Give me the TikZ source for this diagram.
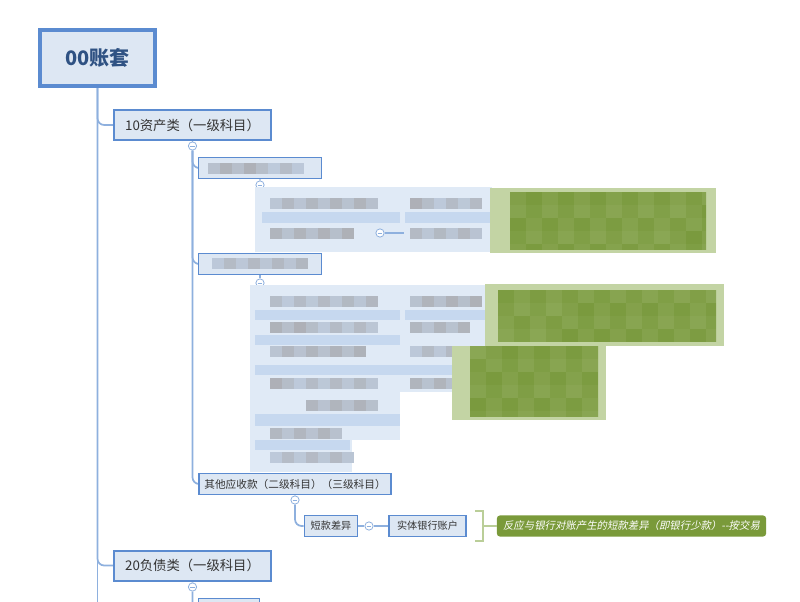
\documentclass[tikz,border=0pt]{standalone}
\usepackage{fontspec}
\usepackage{tikz}
\usetikzlibrary{positioning,calc,backgrounds}
\newfontfamily\cjk{Noto Sans CJK SC}
\newfontfamily\cjkit[FakeSlant=0.2]{Noto Sans CJK SC}
\definecolor{accent}{HTML}{5B8BD0}
\definecolor{soft}{HTML}{DDE7F3}
\definecolor{linkc}{HTML}{8EB0DE}
\definecolor{ink}{HTML}{333333}
\definecolor{rootink}{HTML}{2F5283}
\definecolor{notegreen}{HTML}{7A9A3A}
\definecolor{brk}{HTML}{BACE98}
\definecolor{mpale}{HTML}{E0EAF6}
\definecolor{mblue}{HTML}{C6D8EF}
\definecolor{mgrey}{HTML}{A9A9AC}
\definecolor{mgreen}{HTML}{7A9A3E}
\definecolor{mgreenl}{HTML}{C3D4A4}

\begin{document}
\begin{tikzpicture}[x=0.75pt,y=-0.75pt,
  every node/.style={font=\cjk,text=ink,inner sep=0pt,align=center},
  topic/.style={draw=accent,fill=soft,line width=1.5pt,minimum width=118pt,minimum height=22.5pt,font=\cjk\fontsize{10}{12}\selectfont},
  sub/.style={draw=accent,fill=soft,line width=1.2pt,minimum height=16pt,font=\cjk\fontsize{8}{10}\selectfont},
  leaf/.style={draw=accent,fill=soft,line width=1.2pt,minimum height=15.5pt,font=\cjk\fontsize{7.6}{9}\selectfont},
  note/.style={fill=notegreen,rounded corners=2.5pt,minimum height=16pt,text=white,font=\cjkit\fontsize{7.8}{9}\selectfont},
  fold/.style={circle,draw=linkc,fill=white,line width=0.6pt,minimum size=6.2pt,
    path picture={\draw[linkc,line width=0.6pt] ([xshift=1.4pt]path picture bounding box.west) -- ([xshift=-1.4pt]path picture bounding box.east);}},
  link/.style={linkc,line width=1.3pt,rounded corners=5pt},
  bracket/.style={brk,line width=2.2pt}]
  \useasboundingbox (0,0) rectangle (800,602);

  % root and first level
  \node[draw=accent,fill=soft,line width=3pt,minimum width=86pt,minimum height=42pt,text=rootink,
    font=\cjk\bfseries\fontsize{15}{18}\selectfont] (root) at (97.5,58) {00账套};
  \node[topic] (a10) at (192.5,125) {10资产类（一级科目）};
  \node[topic] (a20) at (192.5,565.5) {20负债类（一级科目）};
  \coordinate (trunkend) at (97.5,602);

  % second level
  \node[sub,minimum width=92pt] (b1) at (260,168) {};
  \node[sub,minimum width=92pt] (b2) at (260,264) {};
  \node[sub,minimum width=144pt] (b3) at (295,484) {其他应收款（二级科目）（三级科目）};
  \node[sub,minimum width=46pt] (d1) at (229,609) {};

  % hidden children
  \node[sub,minimum width=80pt] (e1) at (322,208) {};
  \node[sub,minimum width=80pt] (e2) at (322,233) {};
  \node[sub,minimum width=60pt] (e4) at (445,233) {};

  % third level
  \node[leaf,minimum width=40pt] (c1) at (331,526) {短款差异};
  \node[leaf,minimum width=58pt] (c2) at (427.5,526) {实体银行账户};
  \node[note,minimum width=202pt] (note) at (631.5,526) {反应与银行对账产生的短款差异（即银行少款）-{}-按交易};
  \coordinate (brkc) at (483,526);

  \node[fold] (f10) at (192.5,146) {};
  \node[fold] (f20) at (192.5,587) {};
  \node[fold] (fb1) at (260,185) {};
  \node[fold] (fb2) at (260,283) {};
  \node[fold] (fb3) at (295,500) {};
  \node[fold] (fc1) at (369,526) {};

  \begin{scope}[on background layer]
    \draw[link] (root.south) -- (trunkend);
    \draw[link] (root.south) |- (a10.west);
    \draw[link] (root.south) |- (a20.west);
    \draw[link] (a10.south) -- (f10);
    \draw[link] (f10) |- (b1.west);
    \draw[link] (f10) |- (b2.west);
    \draw[link] (f10) |- (b3.west);
    \draw[link] (a20.south) -- (f20) |- (d1.west);
    \draw[link] (b1.south) -- (fb1) |- (e1.west);
    \draw[link] (fb1) |- (e2.west);
    \draw[link] (b2.south) -- (fb2);
    \draw[link] (b3.south) -- (fb3) |- (c1.west);
    \draw[link] (c1.east) -- (fc1) -- (c2.west);
  \end{scope}
  \draw[bracket] ($(brkc)+(-8,-15)$) -| ($(brkc)+(0,15)$) -- ++(-8,0);
  \draw[bracket] (brkc) -- (note.west);

  % mosaic over the hidden parts
  \fill[mpale] (255,187) rectangle (492,252);
  \fill[mpale] (250,285) rectangle (400,440);
  \fill[mpale] (250,440) rectangle (352,472);
  \fill[mpale] (400,285) rectangle (495,392);
  \foreach \xa/\ya/\xb/\yb in {262/212/400/223, 405/212/490/223, 255/310/400/320, 405/310/490/320,
      255/335/400/345, 255/365/495/375, 255/414/400/426, 255/440/350/450}
    \fill[mblue] (\xa,\ya) rectangle (\xb,\yb);
  \foreach \xa/\xb/\yy in {270/366/198, 410/470/198, 270/342/228, 410/470/228, 208/292/163, 212/296/258,
      270/366/296, 410/470/296, 270/366/322, 410/458/322, 270/354/346, 410/446/346,
      270/366/378, 410/446/378, 306/366/400, 270/330/428, 270/342/452} {
    \pgfmathtruncatemacro\xc{\xa+12}
    \foreach \c in {\xa,\xc,...,\xb} {
      \pgfmathtruncatemacro\s{30+mod(\c*7+\yy*3,55)}
      \fill[mgrey!\s!mblue] (\c,\yy) rectangle ++(12,11);
    }
  }
  \fill[mgreenl] (490,188) rectangle (716,253);
  \fill[mgreenl] (485,284) rectangle (724,346);
  \fill[mgreenl] (452,346) rectangle (606,420);
  \foreach \xa/\ya/\xb/\yb in {510/192/706/250, 498/290/716/342, 470/346/598/416} {
    \begin{scope}
      \clip (\xa,\ya) rectangle (\xb,\yb);
      \pgfmathtruncatemacro\xc{\xa+16}
      \pgfmathtruncatemacro\yc{\ya+13}
      \foreach \c in {\xa,\xc,...,\xb} {
        \foreach \r in {\ya,\yc,...,\yb} {
          \pgfmathtruncatemacro\s{78+mod(\c*5+\r*19,23)}
          \fill[mgreen!\s!mgreenl] (\c,\r) rectangle ++(16,13);
        }
      }
    \end{scope}
  }

  \node[fold] (fe2) at (380,233) {};
  \draw[link] (fe2.east) -- (e4.west);
\end{tikzpicture}
\end{document}
